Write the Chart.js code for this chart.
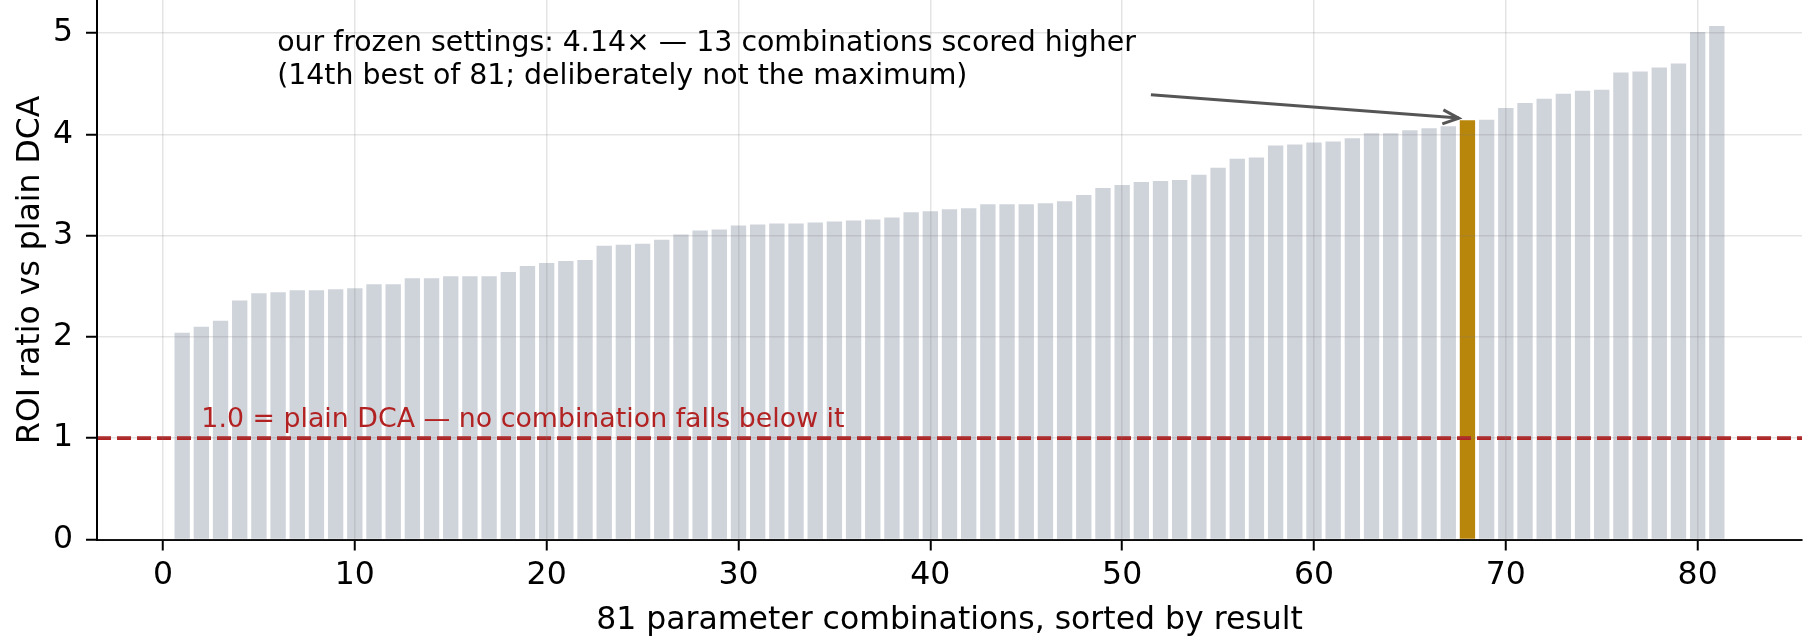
<!DOCTYPE html>
<html>
<head>
<meta charset="utf-8">
<script src="https://cdn.jsdelivr.net/npm/chart.js@4"></script>
<style>
  body { margin: 0; background: #fff; }
  canvas { display: block; }
</style>
</head>
<body>
<canvas id="roiChart" width="1811" height="640"></canvas>
<script>
// ROI ratio of each parameter combination vs plain DCA, sorted ascending (rank 1..81)
const roiRatio = [
  2.04, 2.10, 2.16, 2.36, 2.43, 2.44, 2.46, 2.46, 2.47, 2.48,
  2.52, 2.52, 2.58, 2.58, 2.60, 2.60, 2.60, 2.64, 2.70, 2.73,
  2.75, 2.76, 2.90, 2.91, 2.92, 2.96, 3.01, 3.05, 3.06, 3.10,
  3.11, 3.12, 3.12, 3.13, 3.14, 3.15, 3.16, 3.18, 3.23, 3.24,
  3.26, 3.27, 3.31, 3.31, 3.31, 3.32, 3.34, 3.40, 3.47, 3.50,
  3.53, 3.54, 3.55, 3.60, 3.67, 3.76, 3.77, 3.89, 3.90, 3.92,
  3.93, 3.96, 4.01, 4.01, 4.04, 4.06, 4.08, 4.14, 4.145, 4.26,
  4.31, 4.35, 4.40, 4.43, 4.44, 4.61, 4.62, 4.66, 4.70, 5.01,
  5.07
];
const ourRank = 68;          // our frozen settings
const baseline = 1.0;        // plain DCA
const xTicks = [0, 10, 20, 30, 40, 50, 60, 70, 80];
const yTicks = [0, 1, 2, 3, 4, 5];

const noteLines = [
  "our frozen settings: 4.14\u00d7 \u2014 13 combinations scored higher",
  "(14th best of 81; deliberately not the maximum)"
];
const baseNote = "1.0 = plain DCA \u2014 no combination falls below it";

const FONT = "'DejaVu Sans', sans-serif";
const greyBar = "#cfd3da";
const goldBar = "#b8860b";
const red = "#b22222";
const gridCol = "rgba(120,120,120,0.2)";

// x limits like matplotlib's 5% margin around the bars
const xMin = -3.44, xMax = 85.44;

const barData = roiRatio.map((v, i) => ({ x: i + 1, y: v }));
const barColors = roiRatio.map((v, i) => (i + 1 === ourRank ? goldBar : greyBar));

// annotation text + arrow, drawn through the scales
const notePlugin = {
  id: "notes",
  afterDraw(chart) {
    const { ctx, scales: { x, y } } = chart;
    ctx.save();
    ctx.font = "28.4px " + FONT;
    ctx.fillStyle = "#000";
    ctx.textBaseline = "alphabetic";
    ctx.textAlign = "left";
    const tx = x.getPixelForValue(5.95);
    const ty = y.getPixelForValue(4.82);
    noteLines.forEach((t, i) => ctx.fillText(t, tx, ty + i * 32.7));

    ctx.font = "26.8px " + FONT;
    ctx.fillStyle = red;
    ctx.fillText(baseNote, x.getPixelForValue(2.0), y.getPixelForValue(1.11));

    // arrow
    const x0 = x.getPixelForValue(51.5), y0 = y.getPixelForValue(4.39);
    const x1 = x.getPixelForValue(67.55), y1 = y.getPixelForValue(4.16);
    ctx.strokeStyle = "#555555";
    ctx.lineWidth = 3;
    ctx.beginPath();
    ctx.moveTo(x0, y0);
    ctx.lineTo(x1, y1);
    ctx.stroke();
    const ang = Math.atan2(y1 - y0, x1 - x0);
    const hl = 16, hw = 7;
    ctx.beginPath();
    ctx.moveTo(x1 - hl * Math.cos(ang) + hw * Math.sin(ang), y1 - hl * Math.sin(ang) - hw * Math.cos(ang));
    ctx.lineTo(x1, y1);
    ctx.lineTo(x1 - hl * Math.cos(ang) - hw * Math.sin(ang), y1 - hl * Math.sin(ang) + hw * Math.cos(ang));
    ctx.stroke();
    ctx.restore();
  }
};

new Chart("roiChart", {
  data: {
    datasets: [
      {
        type: "line",
        data: [{ x: xMin, y: baseline }, { x: xMax, y: baseline }],
        borderColor: red,
        borderWidth: 3.8,
        borderDash: [14, 6],
        borderCapStyle: "butt",
        pointRadius: 0,
        order: 0
      },
      {
        type: "bar",
        data: barData,
        backgroundColor: barColors,
        borderWidth: 0,
        barPercentage: 0.8,
        categoryPercentage: 1.0,
        order: 1
      }
    ]
  },
  options: {
    responsive: false,
    animation: false,
    devicePixelRatio: 1,
    layout: { padding: { left: 0, right: 9, top: 0, bottom: 0 } },
    plugins: { legend: { display: false }, tooltip: { enabled: false } },
    scales: {
      x: {
        type: "linear",
        min: xMin,
        max: xMax,
        offset: false,
        afterBuildTicks: s => { s.ticks = xTicks.map(v => ({ value: v })); },
        afterFit: s => { s.height = 100.5; s.paddingLeft = 0; s.paddingRight = 0; },
        grid: {
          z: 1,
          offset: false,
          color: gridCol,
          lineWidth: 1.5,
          tickColor: "#000",
          tickLength: 11,
          tickWidth: 2
        },
        border: { display: true, color: "#000", width: 2, z: 1 },
        ticks: { z: 1, font: { family: FONT, size: 31.5 }, color: "#000", padding: 6, maxRotation: 0 },
        title: {
          display: true,
          text: "81 parameter combinations, sorted by result",
          font: { family: FONT, size: 31.5 },
          color: "#000",
          padding: { top: 2, bottom: 0 }
        }
      },
      y: {
        type: "linear",
        min: 0,
        max: 5.326,
        afterBuildTicks: s => { s.ticks = yTicks.map(v => ({ value: v })); },
        afterFit: s => { s.width = 97; s.paddingTop = 0; s.paddingBottom = 0; },
        grid: {
          z: 1,
          color: gridCol,
          lineWidth: 1.5,
          tickColor: "#000",
          tickLength: 11,
          tickWidth: 2
        },
        border: { display: true, color: "#000", width: 2, z: 1 },
        ticks: { z: 1, font: { family: FONT, size: 31.5 }, color: "#000", padding: 13 },
        title: {
          display: true,
          text: "ROI ratio vs plain DCA",
          font: { family: FONT, size: 31.5 },
          color: "#000",
          padding: { top: 12, bottom: 0 }
        }
      }
    }
  },
  plugins: [notePlugin]
});
</script>
</body>
</html>
